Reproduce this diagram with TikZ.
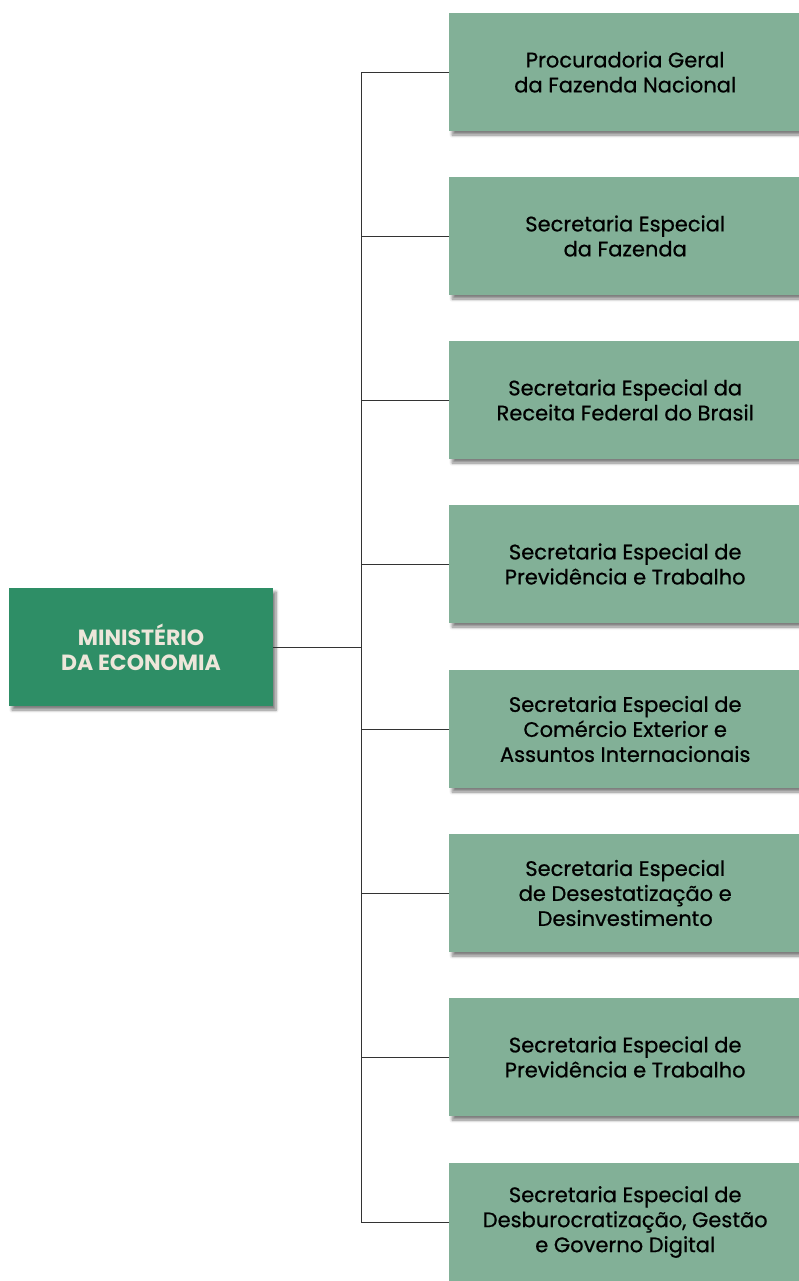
\documentclass[tikz,border=0pt]{standalone}
\usepackage{fontspec}
\setmainfont{Poppins}
\newfontfamily\subfont{Poppins}[FakeBold=0.7]
\usetikzlibrary{shadows.blur}
\definecolor{mainfill}{HTML}{2E8E66}
\definecolor{subfill}{HTML}{82B097}
\definecolor{maintext}{HTML}{EDE6DA}
\definecolor{linecol}{HTML}{333333}
\tikzset{
  boxshadow/.style={blur shadow={shadow xshift=3pt,shadow yshift=-4pt,shadow blur steps=6,shadow opacity=50,shadow blur radius=3pt}},
  mainbox/.style={fill=mainfill,minimum width=264pt,minimum height=118pt,inner sep=0pt,
    align=center,text=maintext,font=\fontsize{22}{25}\selectfont\bfseries,boxshadow},
  subbox/.style={fill=subfill,minimum width=352pt,minimum height=118pt,inner sep=0pt,
    align=center,text=black,font=\subfont\fontsize{21}{25}\selectfont,anchor=west,boxshadow},
  conn/.style={draw=linecol,line width=0.8pt}
}
\begin{document}
\begin{tikzpicture}[x=1pt,y=-1pt]
\useasboundingbox (0,0) rectangle (798,1281);
\node[mainbox] (m) at (141,647) {MINISTÉRIO\\DA ECONOMIA};
\node[subbox] (s1) at (449,72) {Procuradoria Geral\\da Fazenda Nacional};
\node[subbox] (s2) at (449,236) {Secretaria Especial\\da Fazenda};
\node[subbox] (s3) at (449,400) {Secretaria Especial da\\Receita Federal do Brasil};
\node[subbox] (s4) at (449,564) {Secretaria Especial de\\Previdência e Trabalho};
\node[subbox] (s5) at (449,729) {Secretaria Especial de\\Comércio Exterior e\\Assuntos Internacionais};
\node[subbox] (s6) at (449,893) {Secretaria Especial\\de Desestatização e\\Desinvestimento};
\node[subbox] (s7) at (449,1057) {Secretaria Especial de\\Previdência e Trabalho};
\node[subbox] (s8) at (449,1222) {Secretaria Especial de\\Desburocratização, Gestão\\e Governo Digital};
\coordinate (t) at (361,647);
\draw[conn] (m.east) -- (t);
\foreach \i in {1,...,8}{
  \draw[conn] (s\i.west) -| (t);
}
\end{tikzpicture}
\end{document}
